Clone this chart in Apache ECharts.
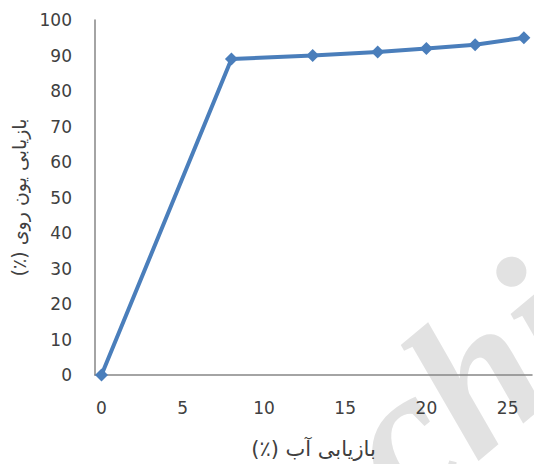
<!DOCTYPE html>
<html>
<head>
<meta charset="utf-8">
<script src="https://cdn.jsdelivr.net/npm/echarts@6/dist/echarts.min.js"></script>
<style>
  html, body { margin: 0; padding: 0; background: #ffffff; }
  #chart { width: 534px; height: 464px; }
</style>
</head>
<body>
<div id="chart"></div>
<script>
// Water recovery (%) against zinc ion recovery (%)
const waterRecovery = [0, 8, 13, 17, 20, 23, 26];
const zincRecovery = [0, 89, 90, 91, 92, 93, 95];
const xTickValues = [0, 5, 10, 15, 20, 25];
const yTickValues = [0, 10, 20, 30, 40, 50, 60, 70, 80, 90, 100];
const xTitle = 'بازیابی آب (٪)';
const yTitle = 'بازیابی یون روی (٪)';

// wrap a Persian string in a right-to-left embedding so the brackets sit at its end
const rtl = s => '\u202B' + s + '\u202C';

const points = waterRecovery.map((x, i) => [x, zincRecovery[i]]);

// SVG output lets the browser shape the Persian axis titles
const chart = echarts.init(document.getElementById('chart'), null, { renderer: 'svg' });

const axisText = { color: '#404040', fontFamily: 'DejaVu Sans', fontSize: 17 };
const xTitleText = { color: '#404040', fontFamily: 'DejaVu Sans', fontSize: 21 };
const yTitleText = { color: '#404040', fontFamily: 'DejaVu Sans', fontSize: 19 };

chart.setOption({
  animation: false,
  backgroundColor: '#ffffff',
  graphic: [{
    type: 'text',
    z: 0,
    silent: true,
    x: 364,
    y: 469,
    rotation: 40 * Math.PI / 180,
    style: {
      text: 'chi',
      font: 'italic bold 200px "Liberation Serif"',
      align: 'left',
      verticalAlign: 'middle',
      fill: '#e2e2e2'
    }
  }],
  grid: { left: 95, right: 2, top: 20, bottom: 89 },
  xAxis: {
    type: 'value',
    min: -0.4,
    max: 26.5,
    name: rtl(xTitle),
    nameLocation: 'middle',
    nameGap: 63,
    nameTextStyle: xTitleText,
    splitLine: { show: false },
    axisTick: { show: false },
    axisLine: { show: true, onZero: false, lineStyle: { color: '#868686', width: 1.5 } },
    axisLabel: Object.assign({ margin: 24, customValues: xTickValues }, axisText)
  },
  yAxis: {
    type: 'value',
    min: 0,
    max: 100,
    interval: 10,
    name: rtl(yTitle),
    nameLocation: 'middle',
    nameGap: 65,
    nameTextStyle: yTitleText,
    splitLine: { show: false },
    axisTick: { show: false },
    axisLine: { show: true, onZero: false, lineStyle: { color: '#868686', width: 1.5 } },
    axisLabel: Object.assign({ margin: 23, customValues: yTickValues }, axisText)
  },
  series: [{
    type: 'line',
    z: 5,
    data: points,
    symbol: 'diamond',
    symbolSize: 13,
    lineStyle: { color: '#4a7ebb', width: 4 },
    itemStyle: { color: '#4a7ebb' }
  }]
});
</script>
</body>
</html>
